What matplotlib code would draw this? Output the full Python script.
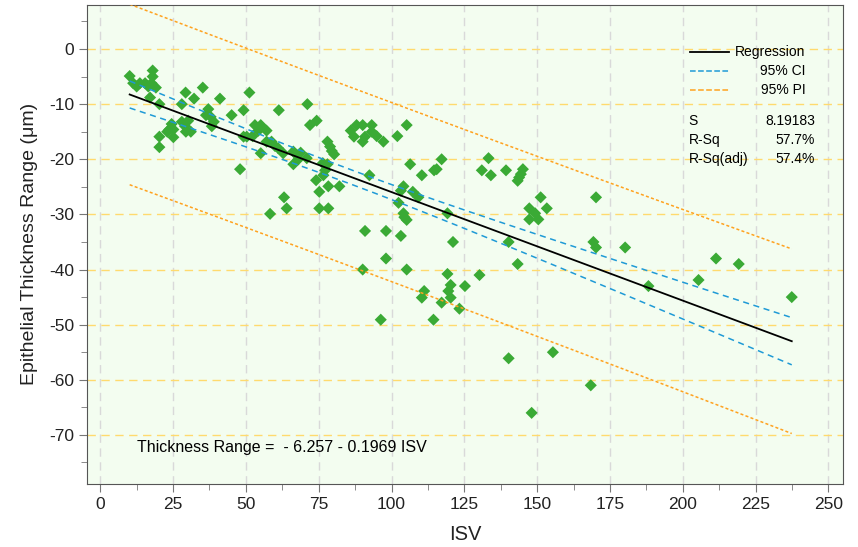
#!/usr/bin/env python3
"""Scatter of epithelial thickness range against ISV with regression, CI and PI bands."""

import numpy as np
from matplotlib import pyplot as plt
from matplotlib.lines import Line2D
from matplotlib.ticker import MultipleLocator

plt.rcParams["font.family"] = ["Liberation Sans", "DejaVu Sans"]
plt.rcParams["axes.unicode_minus"] = False

# digitised observations (ISV, thickness range in um)
isv = [
    10.1, 18.0, 18.0, 11.3, 12.5, 13.6, 15.4, 16.5, 17.6, 19.1, 17.1, 20.3, 20.3, 20.3,
    29.3, 28.0, 32.2, 35.2, 41.1, 37.1, 36.3, 37.9, 39.0, 38.3, 24.5, 23.7, 25.1, 23.0,
    25.1, 28.0, 29.1, 30.2, 29.4, 31.1,
    51.2, 49.2, 45.1, 61.3, 71.1, 72.0, 74.3, 53.1, 55.1, 54.3, 57.1, 49.2, 50.3, 52.3,
    57.1, 58.8, 60.0, 61.1, 62.8, 55.1, 66.3, 67.4, 68.8, 68.0, 66.3, 70.9, 48.0, 78.0,
    78.9, 79.5, 80.3, 76.4, 78.0, 77.2, 76.6, 74.1, 78.3, 82.1, 75.2, 86.0, 87.1, 88.0,
    90.1, 90.9, 93.2, 93.2, 94.9, 90.1, 92.4, 63.1, 64.0, 58.3, 75.2, 78.3, 90.9,
    97.2, 102.0, 105.2, 106.4, 110.4, 114.6, 115.5, 117.2, 104.1, 103.2, 107.3, 109.2,
    102.4, 119.2, 104.1, 104.4, 105.2, 121.1, 98.1, 103.2, 98.1, 90.1, 105.2, 119.2,
    125.2, 120.3, 119.5, 120.3, 111.2, 110.4, 117.2, 123.3, 96.3, 114.4,
    133.3, 131.0, 134.1, 139.3, 145.1, 144.4, 143.8, 143.3, 151.2, 170.2, 147.3, 153.3,
    149.3, 150.4, 147.3, 140.2, 169.3, 170.2, 180.2, 143.3, 130.2, 188.2, 140.2, 155.4,
    168.4, 148.1,
    205.4, 211.4, 219.2, 237.4,
]
thickness = [
    -4.9, -3.9, -5.0, -6.2, -6.8, -6.2, -6.2, -6.8, -6.2, -7.0, -8.8, -10.0, -15.9, -17.8,
    -7.9, -10.0, -9.0, -7.0, -9.0, -10.9, -12.0, -12.3, -13.2, -14.0, -13.6, -14.6, -14.6, -15.0,
    -16.0, -13.2, -14.0, -13.0, -15.0, -15.0,
    -7.9, -11.1, -12.0, -11.1, -10.0, -13.8, -13.0, -13.8, -13.8, -14.8, -14.8, -15.9, -15.9, -15.8,
    -16.8, -16.8, -17.6, -18.0, -18.9, -18.9, -18.6, -19.2, -18.8, -20.0, -20.9, -19.8, -21.8, -16.8,
    -17.7, -18.5, -19.1, -20.7, -20.9, -22.0, -22.9, -23.8, -24.9, -24.9, -25.9, -14.8, -15.9, -13.8,
    -13.8, -15.9, -13.8, -15.0, -15.8, -16.8, -22.9, -26.9, -28.9, -29.9, -28.9, -28.9, -33.0,
    -16.8, -15.8, -13.8, -20.9, -22.9, -22.0, -21.8, -20.0, -24.9, -25.7, -25.9, -26.9,
    -27.9, -29.8, -29.8, -30.5, -31.0, -35.0, -33.0, -33.9, -38.0, -40.0, -40.0, -40.8,
    -43.0, -42.8, -43.9, -45.1, -43.9, -45.1, -46.0, -47.1, -49.1, -49.1,
    -19.8, -22.0, -22.9, -22.0, -21.8, -22.7, -23.3, -23.9, -26.9, -26.9, -28.9, -28.9,
    -29.8, -30.9, -30.9, -35.0, -35.0, -36.0, -36.0, -39.0, -41.0, -43.0, -56.1, -55.0,
    -61.0, -66.0,
    -41.9, -38.0, -39.0, -45.0,
]

# fitted model as reported on the chart
intercept = -6.257
slope = -0.1969
s_err = 8.19183
r_sq = "57.7%"
r_sq_adj = "57.4%"
t_crit = 1.976

x = np.array(isv)
y = np.array(thickness)
n = len(x)
x_bar = x.mean()
sxx = ((x - x_bar) ** 2).sum()

xs = np.linspace(x.min(), x.max(), 200)
fit = intercept + slope * xs
ci = t_crit * s_err * np.sqrt(1 / n + (xs - x_bar) ** 2 / sxx)
pi = t_crit * s_err * np.sqrt(1 + 1 / n + (xs - x_bar) ** 2 / sxx)

fig = plt.figure(figsize=(8.58, 5.47), dpi=100)
ax = fig.add_axes([0.1017, 0.1152, 0.8805, 0.8762])
ax.set_facecolor("#f3fdf0")

ax.set_xlim(-4.46, 254.9)
ax.set_ylim(-78.9, 8.04)
ax.xaxis.set_major_locator(MultipleLocator(25))
ax.xaxis.set_minor_locator(MultipleLocator(12.5))
ax.yaxis.set_major_locator(MultipleLocator(10))
ax.yaxis.set_minor_locator(MultipleLocator(5))

# grid: grey verticals, yellow horizontals
ax.grid(axis="x", which="major", color="#d9d9d9", linestyle=(0, (6, 4)), linewidth=1)
ax.grid(axis="y", which="major", color="#ffda6e", linestyle=(0, (6, 4)), linewidth=1)
ax.set_axisbelow(True)

ax.scatter(x, y, marker="D", s=38, color="#3aaa35", edgecolors="none", zorder=3)

reg_line, = ax.plot(xs, fit, color="black", linewidth=1.3, zorder=4)
ci_style = dict(color="#1f9ad6", linestyle=(0, (4, 3)), linewidth=1.1, zorder=4)
pi_style = dict(color="#ffa21f", linestyle=(0, (2, 1.5)), linewidth=1.1, zorder=4)
ci_line, = ax.plot(xs, fit + ci, **ci_style)
ax.plot(xs, fit - ci, **ci_style)
pi_line, = ax.plot(xs, fit + pi, **pi_style)
ax.plot(xs, fit - pi, **pi_style)

for side in ax.spines.values():
    side.set_color("#555555")
ax.tick_params(which="major", length=6, color="#777777", labelsize=12.5, labelcolor="#222222")
ax.tick_params(which="minor", length=4, color="#777777")
ax.set_xlabel("ISV", fontsize=14.5, labelpad=9, color="#222222")
ax.set_ylabel("Epithelial Thickness Range (μm)", fontsize=14, labelpad=8, color="#222222")

# legend drawn by hand so the labels sit right-aligned like the original
for row, (handle, label) in enumerate(
    zip([reg_line, ci_line, pi_line], ["Regression", "95% CI", "95% PI"])
):
    ypos = 0.901 - row * 0.0395
    ax.add_line(
        Line2D(
            [0.798, 0.849],
            [ypos, ypos],
            transform=ax.transAxes,
            color=handle.get_color(),
            linestyle=handle.get_linestyle(),
            linewidth=handle.get_linewidth(),
        )
    )
    ax.text(0.951, ypos, label, transform=ax.transAxes, ha="right", va="center", fontsize=10)

for row, (name, value) in enumerate(
    zip(["S", "R-Sq", "R-Sq(adj)"], [f"{s_err:.5f}", r_sq, r_sq_adj])
):
    ypos = 0.757 - row * 0.0395
    ax.text(0.796, ypos, name, transform=ax.transAxes, ha="left", va="center", fontsize=10)
    ax.text(0.963, ypos, value, transform=ax.transAxes, ha="right", va="center", fontsize=10)

ax.text(
    0.066,
    0.077,
    f"Thickness Range =  - {abs(intercept):.3f} - {abs(slope):.4f} ISV",
    transform=ax.transAxes,
    ha="left",
    va="center",
    fontsize=11.5,
)

fig.savefig("out.png", dpi=100)
